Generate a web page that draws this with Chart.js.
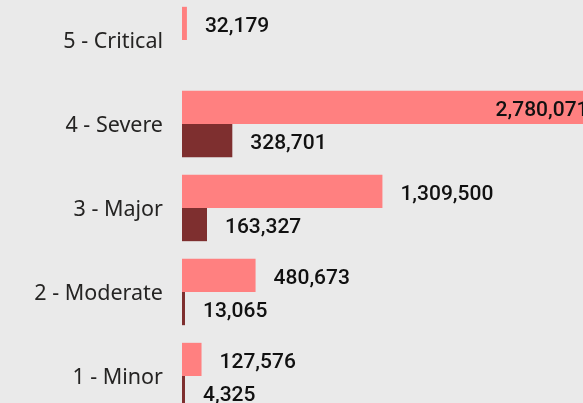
<!DOCTYPE html>
<html lang="en">
<head>
    <meta charset="UTF-8">
    <title>Incidents by Severity</title>
    <script src="https://cdn.jsdelivr.net/npm/chart.js@4.4.0/dist/chart.umd.min.js"></script>
    <style>
        html, body {
            margin: 0;
            padding: 0;
            background-color: #eaeaea;
            overflow: hidden;
        }
        .chart-wrap {
            position: relative;
            width: 583px;
            height: 403px;
            overflow: hidden;
        }
        .chart-container {
            position: absolute;
            left: 0;
            top: -2px;
            width: 583px;
            height: 420px;
        }
    </style>
</head>
<body>
    <div class="chart-wrap">
        <div class="chart-container">
            <canvas id="severityChart"></canvas>
        </div>
    </div>

    <script>
        // Chart data
        const categories = ['5 - Critical', '4 - Severe', '3 - Major', '2 - Moderate', '1 - Minor'];
        const totalValues = [32179, 2780071, 1309500, 480673, 127576];
        const subsetValues = [null, 328701, 163327, 13065, 4325];
        const xMax = 2620000;

        // Draw value labels next to each bar (inside the end if it would not fit)
        const valueLabels = {
            id: 'valueLabels',
            afterDatasetsDraw(chart) {
                const ctx = chart.ctx;
                const area = chart.chartArea;
                ctx.save();
                ctx.font = '500 21px Roboto, "DejaVu Sans Condensed", sans-serif';
                ctx.fillStyle = '#111111';
                ctx.textBaseline = 'middle';
                chart.data.datasets.forEach((ds, i) => {
                    const meta = chart.getDatasetMeta(i);
                    meta.data.forEach((bar, j) => {
                        const v = ds.data[j];
                        if (v === null || v === undefined) return;
                        const text = v.toLocaleString('en-US');
                        const w = ctx.measureText(text).width;
                        if (bar.x + 18 + w > area.right) {
                            ctx.textAlign = 'right';
                            ctx.fillText(text, bar.x - 19, bar.y + 3);
                        } else {
                            ctx.textAlign = 'left';
                            ctx.fillText(text, bar.x + 18, bar.y + 3);
                        }
                    });
                });
                ctx.restore();
            }
        };

        const ctx = document.getElementById('severityChart').getContext('2d');
        new Chart(ctx, {
            type: 'bar',
            data: {
                labels: categories,
                datasets: [{
                    label: 'Total',
                    data: totalValues,
                    backgroundColor: '#ff8080',
                    borderWidth: 0
                }, {
                    label: 'Subset',
                    data: subsetValues,
                    backgroundColor: '#7e2f2f',
                    borderWidth: 0,
                    minBarLength: 3
                }]
            },
            options: {
                indexAxis: 'y',
                responsive: true,
                maintainAspectRatio: false,
                animation: false,
                layout: { padding: 0 },
                datasets: {
                    bar: { categoryPercentage: 0.79, barPercentage: 1 }
                },
                scales: {
                    x: {
                        display: false,
                        min: 0,
                        max: xMax
                    },
                    y: {
                        grid: { display: false, drawTicks: false },
                        border: { display: false },
                        ticks: {
                            padding: 19,
                            labelOffset: 2,
                            color: '#252423',
                            font: { family: '"Noto Sans", "Open Sans", sans-serif', size: 21.5 }
                        },
                        afterFit(scale) {
                            scale.width = 182;
                            scale.paddingTop = 0;
                            scale.paddingBottom = 0;
                        }
                    }
                },
                plugins: {
                    legend: { display: false },
                    tooltip: { enabled: false }
                }
            },
            plugins: [valueLabels]
        });
    </script>
</body>
</html>
